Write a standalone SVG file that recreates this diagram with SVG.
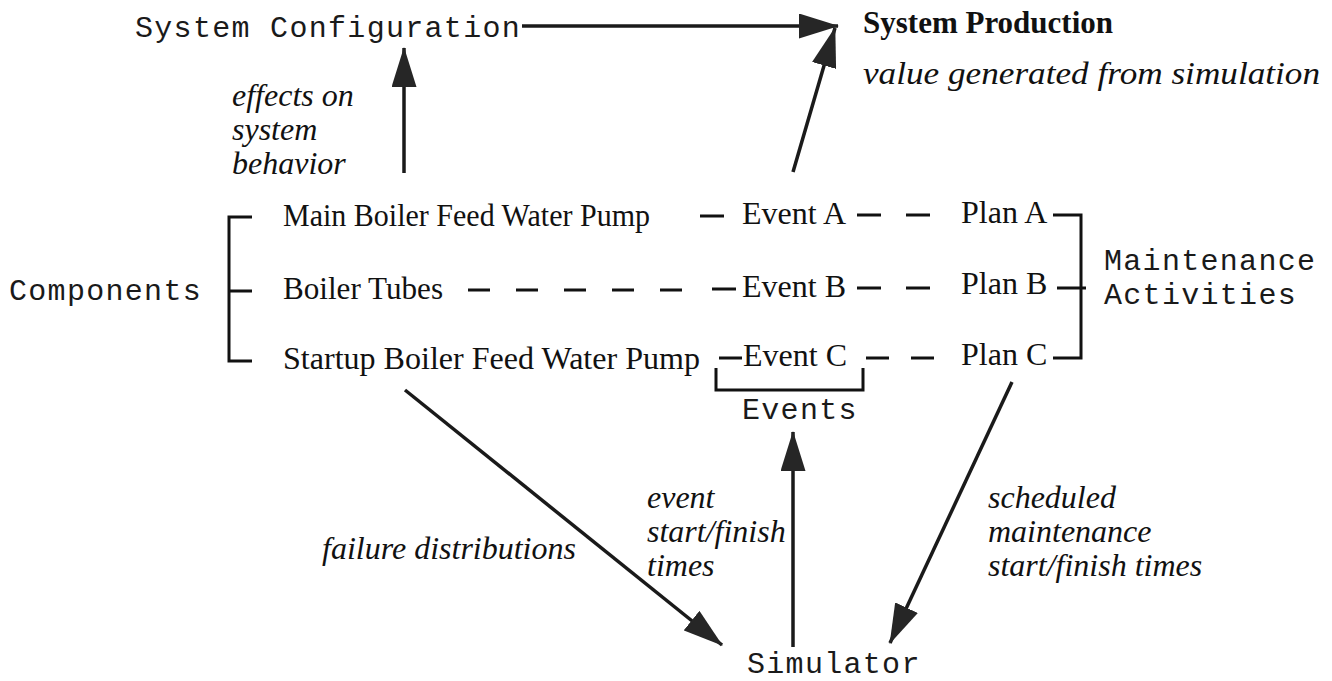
<svg xmlns="http://www.w3.org/2000/svg" width="1332" height="681" viewBox="0 0 1332 681">
<style>
.mono{font-family:"Liberation Mono","Courier New",monospace;font-size:30px;letter-spacing:1.3px;fill:#1a1a1a}
.ser{font-family:"Liberation Serif","Times New Roman",serif;font-size:32px;fill:#111}
.it{font-family:"Liberation Serif","Times New Roman",serif;font-size:32px;font-style:italic;fill:#111}
.bold{font-family:"Liberation Serif","Times New Roman",serif;font-size:31px;font-weight:bold;fill:#111}
.arrow{stroke:#1a1a1a;stroke-width:3.5;fill:none;marker-end:url(#ah)}
.br{stroke:#111;stroke-width:3;fill:none}
.dash{stroke:#111;stroke-width:3;fill:none}
</style>
<defs>
<marker id="ah" markerUnits="userSpaceOnUse" viewBox="0 0 40 25" markerWidth="40" markerHeight="25" refX="39" refY="12.5" orient="auto">
<path d="M0,0 L40,12.5 L0,25 Z" fill="#262626"/>
</marker>
</defs>
<rect width="1332" height="681" fill="#ffffff"/>

<g id="connectors">
<path class="arrow" d="M522,26 L838,26"/>
<path class="arrow" d="M404,173 L404,48"/>
<path class="arrow" d="M793,172 L835,28"/>
<path class="arrow" d="M405,390 L722,645"/>
<path class="arrow" d="M793,647 L793,432"/>
<path class="arrow" d="M1012,382 L890,643"/>
<path class="br" d="M252,217 H229 V361 H252 M229,291 H252"/>
<path class="br" d="M1053,215 H1081 V358 H1053 M1057,288 H1086"/>
<path class="br" d="M716,368 V390 H863 V368"/>
<path class="dash" d="M700,216 H724 M857,215 H881 M906,215 H930"/>
<path class="dash" d="M468,290 H490 M516,290 H538 M564,290 H586 M612,290 H634 M660,290 H682 M712,289 H736 M857,288 H881 M906,288 H930"/>
<path class="dash" d="M719,358 H742 M866,358 H889 M911,358 H934"/>
</g>

<g id="system-configuration"><text class="mono" x="135" y="37">System Configuration</text></g>
<g id="system-production">
<text class="bold" x="863" y="33">System Production</text>
<text class="it" x="863" y="84" font-size="34" textLength="457" lengthAdjust="spacingAndGlyphs">value generated from simulation</text>
</g>
<g id="label-effects">
<text class="it" x="232" y="106">effects on</text>
<text class="it" x="232" y="140">system</text>
<text class="it" x="232" y="174">behavior</text>
</g>
<g id="components"><text class="mono" x="9" y="300">Components</text></g>
<g id="comp-main"><text class="ser" x="283" y="226" textLength="367" lengthAdjust="spacingAndGlyphs">Main Boiler Feed Water Pump</text></g>
<g id="comp-tubes"><text class="ser" x="283" y="299" textLength="160" lengthAdjust="spacingAndGlyphs">Boiler Tubes</text></g>
<g id="comp-startup"><text class="ser" x="283" y="369" textLength="417" lengthAdjust="spacingAndGlyphs">Startup Boiler Feed Water Pump</text></g>
<g id="event-a"><text class="ser" x="742" y="224">Event A</text></g>
<g id="event-b"><text class="ser" x="742" y="297">Event B</text></g>
<g id="event-c"><text class="ser" x="743" y="366">Event C</text></g>
<g id="plan-a"><text class="ser" x="961" y="223">Plan A</text></g>
<g id="plan-b"><text class="ser" x="961" y="294">Plan B</text></g>
<g id="plan-c"><text class="ser" x="961" y="365">Plan C</text></g>
<g id="maintenance-activities">
<text class="mono" x="1104" y="270">Maintenance</text>
<text class="mono" x="1104" y="304">Activities</text>
</g>
<g id="events"><text class="mono" x="742" y="419">Events</text></g>
<g id="label-failure"><text class="it" x="322" y="559">failure distributions</text></g>
<g id="label-event-times">
<text class="it" x="647" y="508">event</text>
<text class="it" x="647" y="542">start/finish</text>
<text class="it" x="647" y="576">times</text>
</g>
<g id="label-scheduled">
<text class="it" x="988" y="508">scheduled</text>
<text class="it" x="988" y="542">maintenance</text>
<text class="it" x="988" y="576">start/finish times</text>
</g>
<g id="simulator"><text class="mono" x="747" y="673">Simulator</text></g>
</svg>
